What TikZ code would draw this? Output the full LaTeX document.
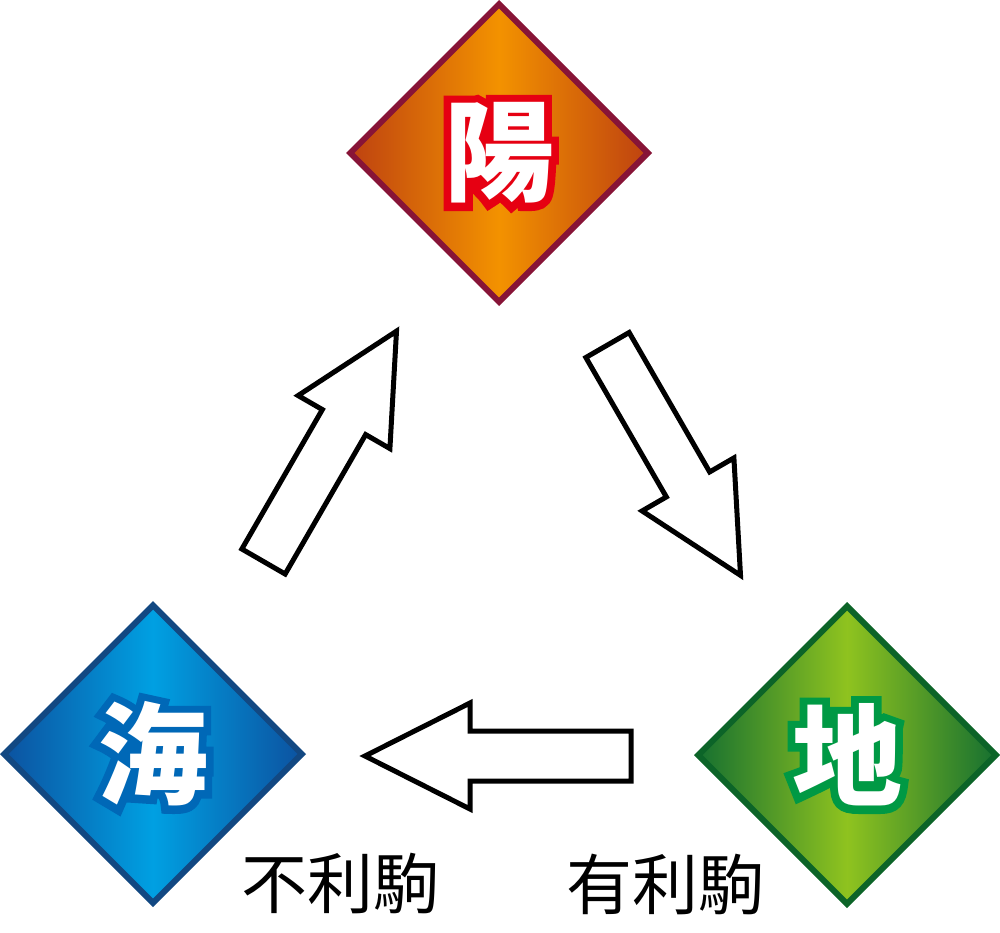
\documentclass[tikz,border=0pt]{standalone}
\usepackage{fontspec}
\usetikzlibrary{shapes.geometric}
\newfontfamily\cjk{Noto Sans CJK JP}
\newfontfamily\cjkout{Noto Sans CJK JP}[BoldFeatures={FakeBold=14}]
\definecolor{orEdge}{RGB}{190,66,16}
\definecolor{orMid}{RGB}{243,146,0}
\definecolor{orLine}{RGB}{135,20,55}
\definecolor{blEdge}{RGB}{12,82,160}
\definecolor{blMid}{RGB}{0,160,226}
\definecolor{blLine}{RGB}{18,72,130}
\definecolor{grEdge}{RGB}{22,112,48}
\definecolor{grMid}{RGB}{143,195,31}
\definecolor{grLine}{RGB}{12,100,40}
\definecolor{redOut}{RGB}{230,0,18}
\definecolor{blueOut}{RGB}{0,104,183}
\definecolor{greenOut}{RGB}{0,153,68}
\tikzset{
  gem/.style={diamond, minimum width=300pt, minimum height=300pt, inner sep=0pt, line width=6pt, draw=#1},
  bigout/.style={inner sep=0pt, text=#1, font=\cjkout\bfseries\fontsize{110}{110}\selectfont},
  bigin/.style={inner sep=0pt, text=white, font=\cjk\bfseries\fontsize{110}{110}\selectfont},
  label/.style={inner sep=0pt, text=black, font=\cjk\fontsize{66}{66}\selectfont},
  arrowline/.style={draw=black, fill=white, line width=5pt, line join=miter},
  barrow/.pic={\draw[arrowline] (0,-25) -- (161,-25) -- (161,-53) -- (266,0) -- (161,53) -- (161,25) -- (0,25) -- cycle;}
}
\begin{document}
\begin{tikzpicture}[x=1pt,y=-1pt]
\useasboundingbox (0,0) rectangle (1000,932);
% diamonds
\node[gem=orLine, left color=orEdge, right color=orEdge, middle color=orMid] (sun) at (499,153) {};
\node[gem=blLine, left color=blEdge, right color=blEdge, middle color=blMid] (sea) at (153,754) {};
\node[gem=grLine, left color=grEdge, right color=grEdge, middle color=grMid] (land) at (847,755) {};
% characters
\node[bigout=redOut] (sunO) at (sun.center) {陽};
\node[bigin] (sunT) at (sun.center) {陽};
\node[bigout=blueOut] (seaO) at (sea.center) {海};
\node[bigin] (seaT) at (sea.center) {海};
\node[bigout=greenOut] (landO) at (land.center) {地};
\node[bigin] (landT) at (land.center) {地};
% arrows
\coordinate (t1) at (263.5,561.5);
\coordinate (t2) at (607.5,345);
\coordinate (t3) at (631,756);
\pic[rotate=60] at (t1) {barrow};
\pic[rotate=-60] at (t2) {barrow};
\pic[rotate=180] at (t3) {barrow};
% labels
\node[label] (bad) at (340,884) {不利駒};
\node[label] (good) at (665,884) {有利駒};
\end{tikzpicture}
\end{document}
